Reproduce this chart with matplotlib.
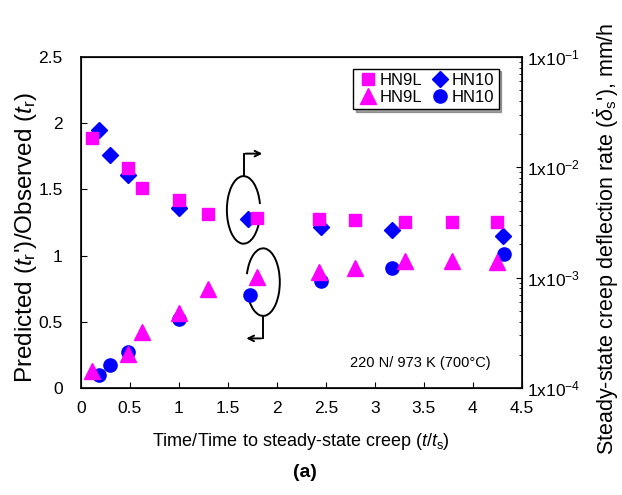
import numpy as np
import matplotlib.pyplot as plt
from matplotlib.patches import Arc

plt.rcParams['font.family'] = ['Liberation Sans', 'DejaVu Sans']
plt.rcParams['mathtext.fontset'] = 'custom'
plt.rcParams['mathtext.rm'] = 'Liberation Sans'
plt.rcParams['mathtext.it'] = 'Liberation Sans:italic'
plt.rcParams['mathtext.bf'] = 'Liberation Sans:bold'

# creep deflection rate (right axis, mm/h)
t_hn9l_rate = [0.11, 0.48, 0.62, 1.00, 1.30, 1.80, 2.43, 2.80, 3.31, 3.79, 4.25]
rate_hn9l = [0.0185, 0.0098, 0.0065, 0.0051, 0.0038, 0.0035, 0.0034, 0.0033, 0.0032, 0.0032, 0.0032]
t_hn10_rate = [0.19, 0.30, 0.48, 1.00, 1.71, 2.45, 3.17, 4.31]
rate_hn10 = [0.0219, 0.0129, 0.0086, 0.0043, 0.0034, 0.0029, 0.0027, 0.0024]

# predicted/observed rupture time (left axis)
t_hn9l_ratio = [0.11, 0.48, 0.62, 1.00, 1.30, 1.80, 2.43, 2.80, 3.31, 3.79, 4.25]
ratio_hn9l = [0.13, 0.26, 0.42, 0.57, 0.75, 0.84, 0.88, 0.91, 0.96, 0.96, 0.95]
t_hn10_ratio = [0.19, 0.30, 0.48, 1.00, 1.73, 2.45, 3.17, 4.32]
ratio_hn10 = [0.10, 0.175, 0.27, 0.52, 0.70, 0.805, 0.91, 1.01]

magenta = '#FF00FF'
blue = '#0000FF'

fig = plt.figure(figsize=(6.22, 4.95), dpi=100)
ax = fig.add_axes([0.130, 0.216, 0.709, 0.669])
ax2 = ax.twinx()

h_tri, = ax.plot(t_hn9l_ratio, ratio_hn9l, '^', color=magenta, ms=11, ls='none', zorder=4)
h_cir, = ax.plot(t_hn10_ratio, ratio_hn10, 'o', color=blue, ms=9.5, ls='none', zorder=3)
h_dia, = ax2.plot(t_hn10_rate, rate_hn10, 'D', color=blue, ms=8, ls='none', zorder=3)
h_sq, = ax2.plot(t_hn9l_rate, rate_hn9l, 's', color=magenta, ms=9, ls='none', zorder=4)

ax.set_xlim(0, 4.5)
ax.set_ylim(0, 2.5)
ax.set_xticks(np.arange(0, 4.51, 0.5))
ax.set_xticklabels(['0', '0.5', '1', '1.5', '2', '2.5', '3', '3.5', '4', '4.5'])
ax.set_yticks(np.arange(0, 2.51, 0.5))
ax.set_yticklabels(['0', '0.5', '1', '1.5', '2', '2.5'])
ax.tick_params(direction='in', labelsize=12.5, length=4, top=False)
ax.tick_params(axis='x', pad=9)
ax.tick_params(axis='y', pad=13)

ax2.set_yscale('log')
ax2.set_ylim(1e-4, 1e-1)
ax2.set_yticks([1e-4, 1e-3, 1e-2, 1e-1])
ax2.set_yticklabels([r'1x10$^{-4}$', r'1x10$^{-3}$', r'1x10$^{-2}$', r'1x10$^{-1}$'])
ax2.tick_params(which='both', direction='in', labelsize=12.5, pad=4)
ax2.tick_params(which='major', length=4)
ax2.tick_params(which='minor', length=2.5)

ax.set_xlabel(r"Time/Time to steady-state creep ($t$/$t_\mathrm{s}$)", fontsize=13, labelpad=11)
ax.set_ylabel(r"Predicted ($t_\mathrm{r}$')/Observed ($t_\mathrm{r}$)", fontsize=17.5)
ax.yaxis.set_label_coords(-0.095, 0.456)
ax2.set_ylabel(r"Steady-state creep deflection rate ($\dot{\delta}_\mathrm{s}$'), mm/h", fontsize=15.5)
ax2.yaxis.set_label_coords(1.158, 0.45)

for sp in ax.spines.values():
    sp.set_linewidth(1.2)

# open ellipses with leader arrows
ax.add_patch(Arc((1.66, 1.345), 0.34, 0.51, theta1=15, theta2=345, color='black', lw=1.4, zorder=2))
ax.plot([1.66, 1.66], [1.60, 1.77], color='black', lw=1.4)
ax.annotate('', xy=(1.88, 1.77), xytext=(1.652, 1.77),
            arrowprops=dict(arrowstyle='->', color='black', lw=1.4))
ax.add_patch(Arc((1.86, 0.80), 0.34, 0.51, theta1=200, theta2=520, color='black', lw=1.4, zorder=2))
ax.plot([1.86, 1.86], [0.545, 0.375], color='black', lw=1.4)
ax.annotate('', xy=(1.66, 0.375), xytext=(1.868, 0.375),
            arrowprops=dict(arrowstyle='->', color='black', lw=1.4))

ax.text(3.46, 0.19, '220 N/ 973 K (700°C)', fontsize=10.5, ha='center', va='center')

leg = ax2.legend([h_sq, h_tri, h_dia, h_cir], ['HN9L', 'HN9L', 'HN10', 'HN10'],
                 ncol=2, loc='upper right', bbox_to_anchor=(0.966, 0.99),
                 fontsize=12, frameon=True, fancybox=False, shadow=True,
                 edgecolor='black', framealpha=1, handletextpad=0.1,
                 columnspacing=0.5, handlelength=1.2, borderpad=0.25, labelspacing=0.12)
leg.get_frame().set_linewidth(1.0)

fig.text(0.49, 0.045, '(a)', fontsize=14, fontweight='bold', ha='center', va='center')

fig.savefig('out.png', dpi=100)
